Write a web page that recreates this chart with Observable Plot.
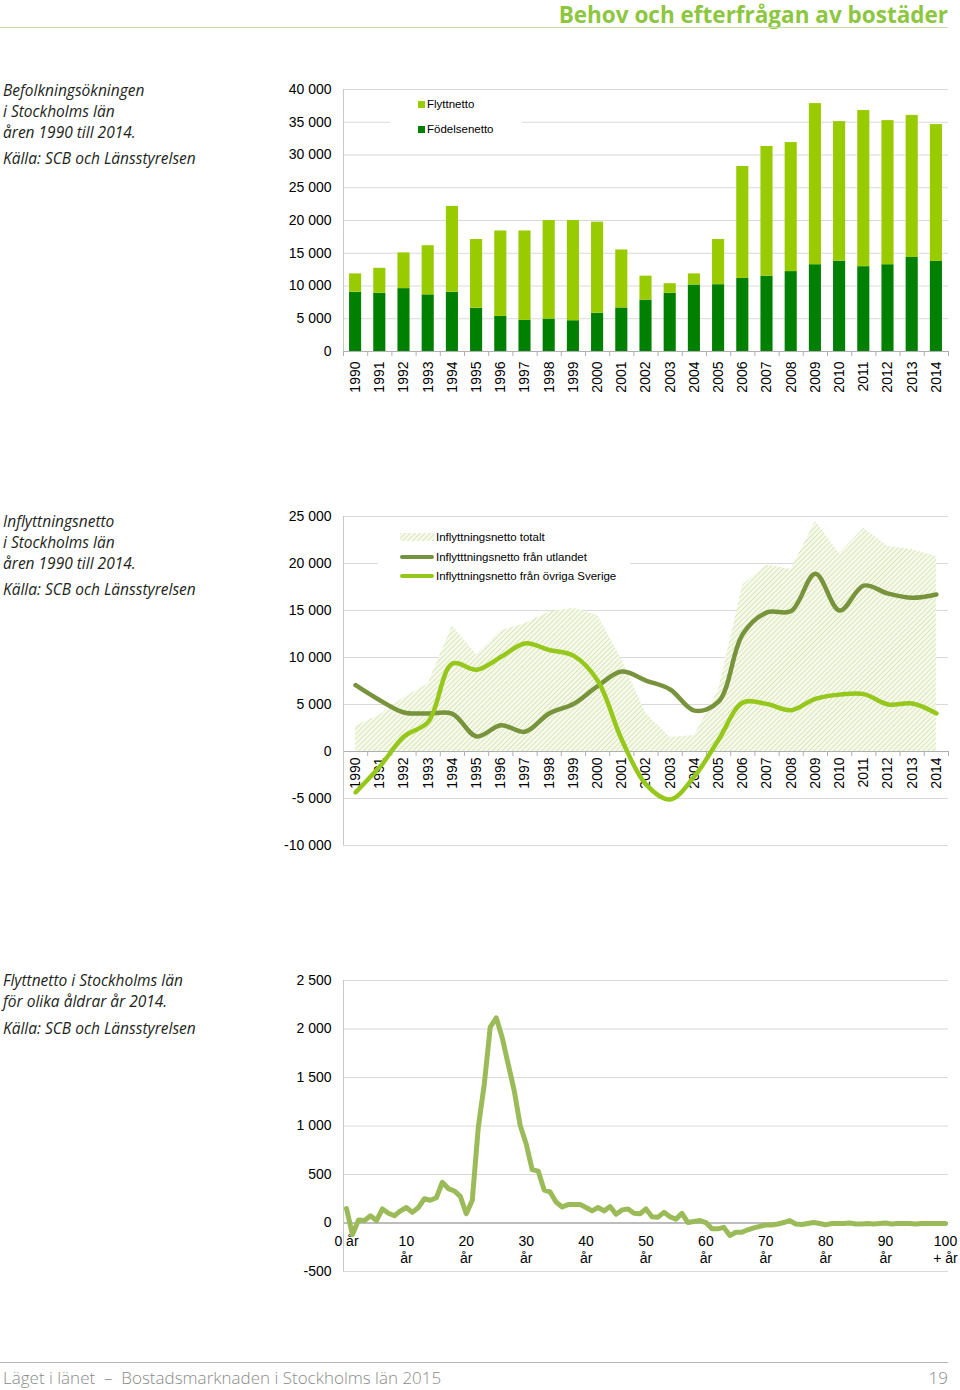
<!DOCTYPE html>
<html><head><meta charset="utf-8">
<script src="https://cdn.jsdelivr.net/npm/d3@7"></script>
<script src="https://cdn.jsdelivr.net/npm/@observablehq/plot@0.6"></script>
<style>
body{margin:0;background:#fff;}
#page{position:relative;width:960px;height:1390px;overflow:hidden;font-family:"Liberation Sans",Arial,sans-serif;background:#fff;}
.chart{position:absolute;left:0;}
.cap{position:absolute;left:3px;font-family:"Open Sans",sans-serif;font-style:italic;font-size:15.5px;color:#231f20;line-height:21px;white-space:nowrap;}
.legend{position:absolute;background:#fff;font-family:"Liberation Sans",Arial,sans-serif;font-size:11.5px;color:#000;}
.legend .t{position:absolute;line-height:14px;white-space:nowrap;}
.legend .sw{position:absolute;}
</style></head><body>
<div id="page">
  <div style="position:absolute;right:12px;top:2px;font-family:'Open Sans',sans-serif;font-weight:700;font-size:22.5px;line-height:25px;color:#8dc63f;white-space:nowrap;">Behov och efterfrågan av bostäder</div>
  <div style="position:absolute;left:0;top:27px;width:948px;border-top:1.5px solid #cddcb0;"></div>

  <div class="cap" style="top:80px;">Befolkningsökningen<br>i Stockholms län<br>åren 1990 till 2014.</div>
  <div class="cap" style="top:148px;">Källa: SCB och Länsstyrelsen</div>

  <div class="cap" style="top:511px;">Inflyttningsnetto<br>i Stockholms län<br>åren 1990 till 2014.</div>
  <div class="cap" style="top:579px;">Källa: SCB och Länsstyrelsen</div>

  <div class="cap" style="top:970px;">Flyttnetto i Stockholms län<br>för olika åldrar år 2014.</div>
  <div class="cap" style="top:1018px;">Källa: SCB och Länsstyrelsen</div>

  <div id="c1" class="chart" style="top:80px;"></div>
  <div id="c2" class="chart" style="top:505px;"></div>
  <div id="c3" class="chart" style="top:970px;"></div>

  <div class="legend" id="leg1" style="left:390px;top:95px;width:132px;height:44px;"></div>
  <div class="legend" id="leg2" style="left:378px;top:527px;width:252px;height:58px;"></div>

  <div style="position:absolute;left:0;top:1362px;width:948px;border-top:1px solid #b5b5b5;"></div>
  <div style="position:absolute;left:3px;top:1366px;font-family:'Open Sans',sans-serif;font-weight:300;font-size:17px;line-height:24px;color:#8a8a8a;white-space:nowrap;">Läget i länet&nbsp; – &nbsp;Bostadsmarknaden i Stockholms län 2015</div>
  <div style="position:absolute;right:12px;top:1366px;font-family:'Open Sans',sans-serif;font-weight:300;font-size:17px;line-height:24px;color:#8a8a8a;">19</div>
</div>
<script>
// ---------- DATA ----------
const years = [1990,1991,1992,1993,1994,1995,1996,1997,1998,1999,2000,2001,2002,2003,2004,2005,2006,2007,2008,2009,2010,2011,2012,2013,2014];

// Chart 1: Befolkningsökningen
const fodelsenetto = [9050,8900,9600,8650,9050,6600,5350,4750,4950,4700,5850,6650,7850,8900,10150,10200,11150,11500,12200,13250,13800,12950,13250,14350,13750];
const flyttnetto   = [2800,3800,5450,7500,13100,10500,13050,13650,15050,15300,13900,8850,3650,1450,1700,6900,17100,19800,19700,24600,21300,23850,22000,21700,20900];
const legend1Labels = ["Flyttnetto","Födelsenetto"];
const yTicks1 = [0,5000,10000,15000,20000,25000,30000,35000,40000];

// Chart 2: Inflyttningsnetto
const utlandet      = [7050,5450,4150,4050,4000,1600,2800,2100,4050,5050,6950,8500,7550,6600,4350,5300,12500,14800,14950,18900,15000,17650,16800,16350,16700];
const ovrigaSverige = [-4350,-1600,1600,3150,9350,8700,10050,11500,10800,10200,7550,1250,-3500,-5100,-2650,1250,5200,5050,4400,5600,6050,6100,5000,5100,4050];
const totalt        = [2700,3850,5750,7200,13350,10300,12850,13600,14850,15250,14500,9750,4050,1500,1700,6550,17700,19850,19350,24500,21050,23750,21800,21450,20750];
const legend2Labels = ["Inflyttningsnetto totalt","Inflytttningsnetto från utlandet","Inflyttningsnetto från övriga Sverige"];
const yTicks2 = [-10000,-5000,0,5000,10000,15000,20000,25000];

// Chart 3: Flyttnetto per ålder 2014
const ages = [0,1,2,3,4,5,6,7,8,9,10,11,12,13,14,15,16,17,18,19,20,21,22,23,24,25,26,27,28,29,30,31,32,33,34,35,36,37,38,39,40,41,42,43,44,45,46,47,48,49,50,51,52,53,54,55,56,57,58,59,60,61,62,63,64,65,66,67,68,69,70,71,72,73,74,75,76,77,78,79,80,81,82,83,84,85,86,87,88,89,90,91,92,93,94,95,96,97,98,99,100];
const flyttnettoAlder = [150,-120,30,25,75,25,145,100,75,125,160,110,160,250,235,260,420,355,330,275,95,235,985,1430,2020,2115,1910,1635,1365,1005,815,550,535,340,320,215,165,190,190,190,160,125,160,125,170,90,135,145,100,95,145,65,60,110,65,40,100,5,15,25,5,-60,-60,-45,-130,-95,-95,-70,-50,-35,-20,-20,-10,5,25,-10,-15,-5,5,-5,-20,-5,-5,-5,0,-10,-10,-5,-10,-5,0,-10,-5,-5,-5,-10,-5,-5,-5,-5,-5];
const ageTicks = [0,10,20,30,40,50,60,70,80,90,100];
const ageTickLabels = ["0 år","10\når","20\når","30\når","40\når","50\når","60\når","70\når","80\når","90\når","100\n+ år"];
const yTicks3 = [-500,0,500,1000,1500,2000,2500];

// ---------- STYLE ----------
const C = {flytt:"#99cc00", fod:"#008000", utl:"#77933c", ovr:"#95c81a", alder:"#9bbb59",
  grid:"#d9d9d9", axis:"#b0b0b0", yaxis:"#c8c8c8"};
const fmt = d3.formatLocale({decimal:",", thousands:" ", grouping:[3], currency:["",""], minus:"-"}).format(",");
const baseStyle = {fontFamily:"'Liberation Sans', Arial, sans-serif", fontSize:"14px", color:"#000", background:"transparent", overflow:"visible"};

const yearDomain = [years[0]-0.5, years[years.length-1]+0.5];
const yearBounds = years.map(y => y-0.5).concat([years[years.length-1]+0.5]);

// ---------- CHART 1 ----------
const data1 = years.map((year,i) => ({year, fod: fodelsenetto[i], flytt: flyttnetto[i]}));
const chart1 = Plot.plot({
  width: 960, height: 320, marginTop: 9, marginBottom: 49, marginLeft: 343, marginRight: 12,
  style: baseStyle,
  x: {domain: yearDomain, axis: null},
  y: {domain: [0, 40000], axis: null},
  marks: [
    Plot.gridY(yTicks1.filter(v => v > 0), {stroke: C.grid, strokeOpacity: 1}),
    Plot.rectY(data1, {x1: d => d.year-0.25, x2: d => d.year+0.25, y1: 0, y2: "fod", fill: C.fod}),
    Plot.rectY(data1, {x1: d => d.year-0.25, x2: d => d.year+0.25, y1: "fod", y2: d => d.fod + d.flytt, fill: C.flytt}),
    Plot.ruleY([0], {stroke: C.axis}),
    Plot.ruleX([yearDomain[0]], {stroke: C.yaxis}),
    Plot.axisY({ticks: yTicks1, tickSize: 0, tickPadding: 12, tickFormat: fmt, label: null}),
    Plot.axisX({ticks: yearBounds, tickSize: 5, tickFormat: () => "", stroke: C.axis, label: null}),
    Plot.axisX({ticks: years, tickSize: 0, tickPadding: 10, tickRotate: -90, tickFormat: d => String(d), label: null})
  ]
});
document.getElementById("c1").appendChild(chart1);

// ---------- CHART 2 ----------
const data2 = years.map((year,i) => ({year, utl: utlandet[i], ovr: ovrigaSverige[i], tot: totalt[i]}));
const chart2 = Plot.plot({
  width: 960, height: 360, marginTop: 11, marginBottom: 20, marginLeft: 343, marginRight: 12,
  style: baseStyle,
  x: {domain: yearDomain, axis: null},
  y: {domain: [-10000, 25000], axis: null},
  marks: [
    Plot.gridY(yTicks2.filter(v => v !== 0), {stroke: C.grid, strokeOpacity: 1}),
    Plot.areaY(data2, {x: "year", y: "tot", fill: "url(#hatch)"}),
    Plot.ruleY([0], {stroke: C.axis}),
    Plot.ruleX(yearBounds, {x: d => d, y1: 0, y2: 0, insetBottom: -5, stroke: C.axis}),
    Plot.text(years, {x: d => d, y: 0, text: d => String(d), rotate: -90, textAnchor: "end", dy: 6, fontSize: 14, fill: "#000"}),
    Plot.line(data2, {x: "year", y: "utl", stroke: C.utl, strokeWidth: 4.5, curve: "catmull-rom"}),
    Plot.line(data2, {x: "year", y: "ovr", stroke: C.ovr, strokeWidth: 4.5, curve: "catmull-rom"}),
    Plot.ruleX([yearDomain[0]], {stroke: C.yaxis}),
    Plot.axisY({ticks: yTicks2, tickSize: 0, tickPadding: 12, tickFormat: fmt, label: null})
  ]
});
d3.select(chart2).insert("defs", ":first-child").html(
  '<pattern id="hatch" patternUnits="userSpaceOnUse" width="3.5" height="3.5" patternTransform="rotate(45)">' +
  '<rect width="3.5" height="3.5" fill="#f6f9ec"/><line x1="0" y1="0" x2="0" y2="3.5" stroke="#d3e3ad" stroke-width="1.6"/></pattern>');
document.getElementById("c2").appendChild(chart2);

// ---------- CHART 3 ----------
const data3 = ages.map((age,i) => ({age, v: flyttnettoAlder[i]}));
const chart3 = Plot.plot({
  width: 960, height: 320, marginTop: 10, marginBottom: 19, marginLeft: 343, marginRight: 12,
  style: baseStyle,
  x: {domain: [ages[0]-0.5, ages[ages.length-1]+0.5], axis: null},
  y: {domain: [-500, 2500], axis: null},
  marks: [
    Plot.gridY(yTicks3.filter(v => v !== 0), {stroke: C.grid, strokeOpacity: 1}),
    Plot.ruleY([0], {stroke: "#a6a6a6", strokeWidth: 1.5}),
    Plot.text(ageTicks, {x: d => d, y: 0, text: (d,i) => ageTickLabels[i], lineAnchor: "top", dy: 11, fontSize: 14, fill: "#000", lineHeight: 1.2}),
    Plot.line(data3, {x: "age", y: "v", stroke: C.alder, strokeWidth: 5, strokeLinejoin: "round"}),
    Plot.ruleX([ages[0]-0.5], {stroke: C.yaxis}),
    Plot.axisY({ticks: yTicks3, tickSize: 0, tickPadding: 12, tickFormat: fmt, label: null})
  ]
});
document.getElementById("c3").appendChild(chart3);

// ---------- LEGENDS ----------
document.getElementById("leg1").innerHTML =
  `<div class="sw" style="left:28px;top:6px;width:7px;height:7px;background:${C.flytt}"></div>
   <div class="t" style="left:37px;top:2px;">${legend1Labels[0]}</div>
   <div class="sw" style="left:28px;top:31px;width:7px;height:7px;background:${C.fod}"></div>
   <div class="t" style="left:37px;top:27px;">${legend1Labels[1]}</div>`;
document.getElementById("leg2").innerHTML =
  `<svg class="sw" style="left:22px;top:6px;" width="34" height="8"><defs><pattern id="hatchL" patternUnits="userSpaceOnUse" width="3.5" height="3.5" patternTransform="rotate(45)"><rect width="3.5" height="3.5" fill="#f6f9ec"/><line x1="0" y1="0" x2="0" y2="3.5" stroke="#d3e3ad" stroke-width="1.6"/></pattern></defs><rect width="34" height="8" fill="url(#hatchL)"/></svg>
   <div class="t" style="left:58px;top:3px;">${legend2Labels[0]}</div>
   <div class="sw" style="left:22px;top:28px;width:34px;height:4px;border-radius:2px;background:${C.utl}"></div>
   <div class="t" style="left:58px;top:23px;">${legend2Labels[1]}</div>
   <div class="sw" style="left:22px;top:47px;width:34px;height:4px;border-radius:2px;background:${C.ovr}"></div>
   <div class="t" style="left:58px;top:42px;">${legend2Labels[2]}</div>`;
</script>
</body></html>
